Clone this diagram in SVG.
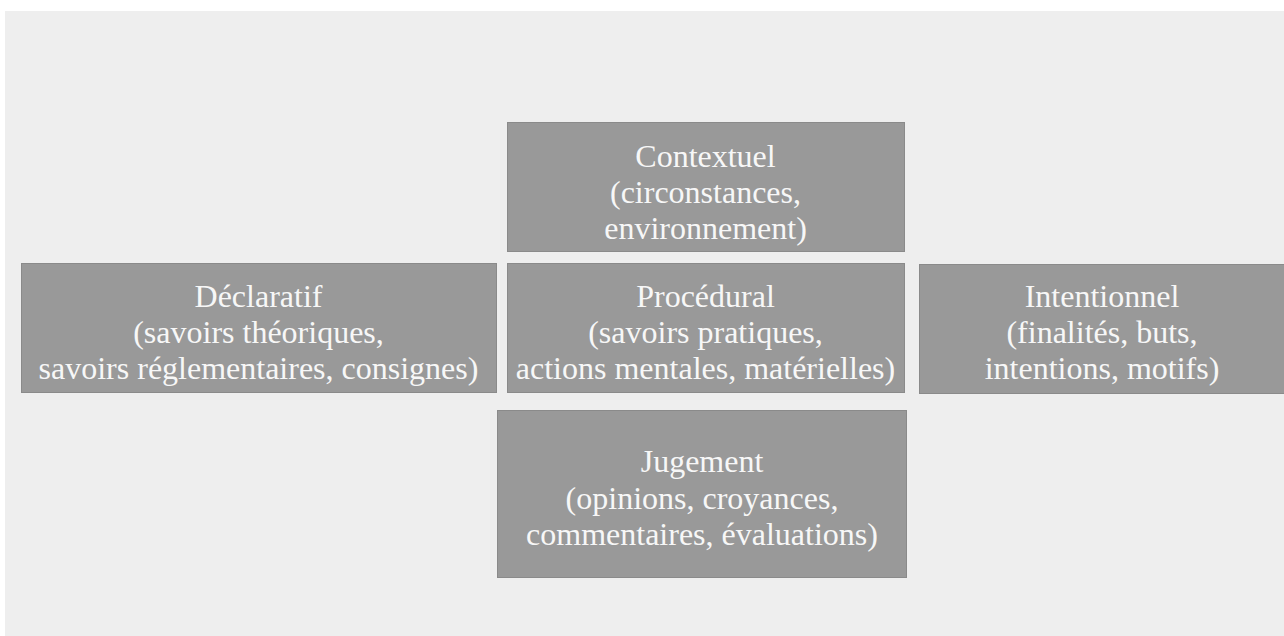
<svg xmlns="http://www.w3.org/2000/svg" width="1284" height="636" viewBox="0 0 1284 636">
<style>
.box{fill:#999999;stroke:#8a8a8a;stroke-width:1}
.t{font-family:"Liberation Serif","Times New Roman",serif;font-size:32px;fill:#f7f7f7;text-anchor:middle}
</style>
<rect x="0" y="0" width="1284" height="636" fill="#ffffff"/>
<rect x="5" y="11" width="1279" height="625" fill="#eeeeee"/>
<g id="connectors"></g>
<g id="contextuel">
<rect class="box" x="507.5" y="122.5" width="397" height="129"/>
<text class="t" x="705.5" y="167">Contextuel</text>
<text class="t" x="705.5" y="203">(circonstances,</text>
<text class="t" x="705.5" y="239">environnement)</text>
</g>
<g id="declaratif">
<rect class="box" x="21.5" y="263.5" width="475" height="129"/>
<text class="t" x="258.5" y="307">Déclaratif</text>
<text class="t" x="258.5" y="343">(savoirs théoriques,</text>
<text class="t" x="258.5" y="379">savoirs réglementaires, consignes)</text>
</g>
<g id="procedural">
<rect class="box" x="507.5" y="263.5" width="397" height="129"/>
<text class="t" x="705.5" y="307">Procédural</text>
<text class="t" x="705.5" y="343">(savoirs pratiques,</text>
<text class="t" x="705.5" y="379">actions mentales, matérielles)</text>
</g>
<g id="intentionnel">
<rect class="box" x="919.5" y="264.5" width="366" height="129"/>
<text class="t" x="1102" y="307">Intentionnel</text>
<text class="t" x="1102" y="343">(finalités, buts,</text>
<text class="t" x="1102" y="379">intentions, motifs)</text>
</g>
<g id="jugement">
<rect class="box" x="497.5" y="410.5" width="409" height="167"/>
<text class="t" x="702" y="472">Jugement</text>
<text class="t" x="702" y="509">(opinions, croyances,</text>
<text class="t" x="702" y="545">commentaires, évaluations)</text>
</g>
</svg>
